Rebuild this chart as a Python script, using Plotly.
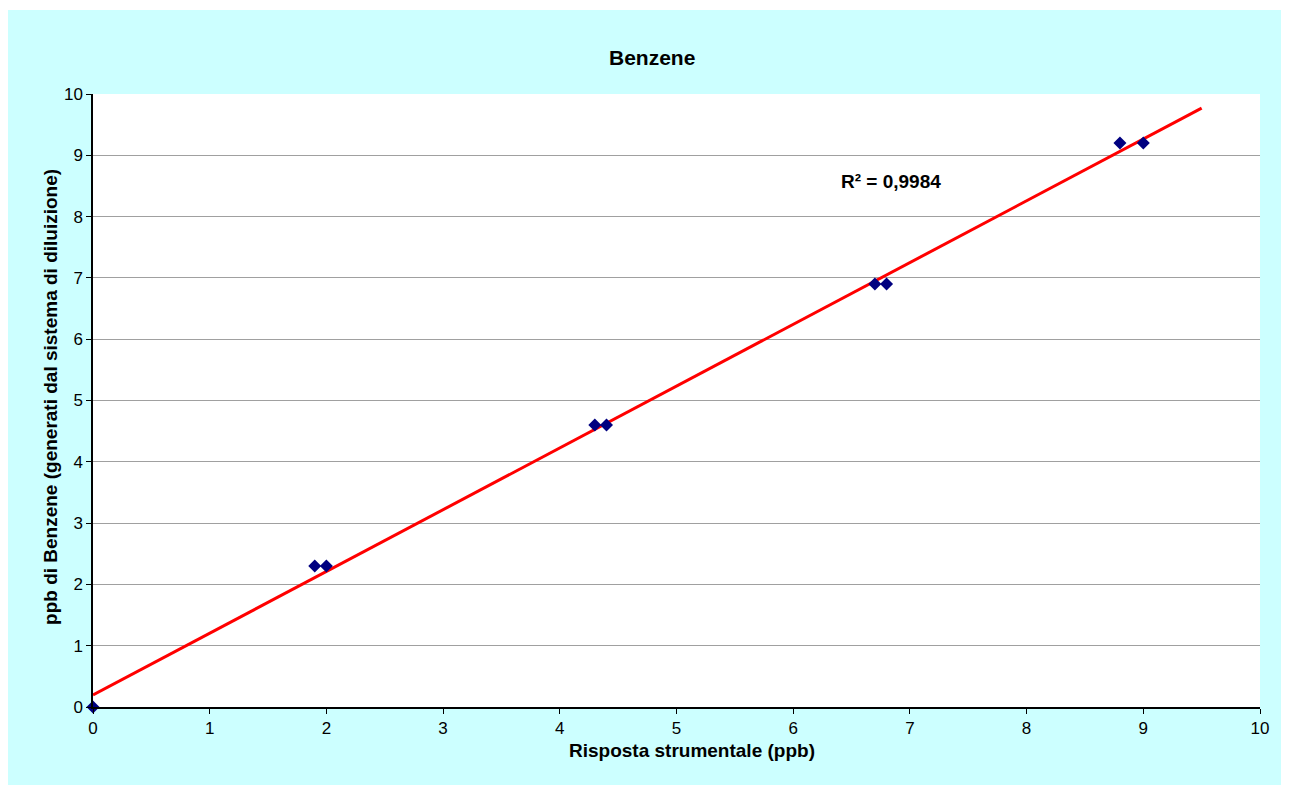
import numpy as np
import plotly.graph_objects as go

# measured points: instrument response vs generated ppb
risposta = [0, 1.9, 2.0, 4.3, 4.4, 6.7, 6.8, 8.8, 9.0]
ppb_generati = [0, 2.3, 2.3, 4.6, 4.6, 6.9, 6.9, 9.2, 9.2]
r2_label = "R² = 0,9984"
x_ticks = list(range(0, 11))
y_ticks = list(range(0, 11))

# linear trendline over the data
slope, intercept = np.polyfit(risposta, ppb_generati, 1)
trend_x = [0, 9.5]
trend_y = [intercept + slope * v for v in trend_x]

font = "Liberation Sans, Arial, sans-serif"

fig = go.Figure()
fig.add_trace(go.Scatter(
    x=trend_x, y=trend_y, mode="lines",
    line=dict(color="#FF0000", width=3), hoverinfo="none",
))
fig.add_trace(go.Scatter(
    x=risposta, y=ppb_generati, mode="markers",
    marker=dict(symbol="diamond", size=10, color="#000080"),
    cliponaxis=False,
))

# cyan chart area behind everything, white plot area on top
fig.add_shape(type="rect", xref="paper", yref="paper",
              x0=-0.0737, x1=1.05, y0=-0.16, y1=1.137,
              fillcolor="#CCFFFF", line_width=0, layer="below")
fig.add_shape(type="rect", xref="paper", yref="paper",
              x0=0, x1=1, y0=0, y1=1,
              fillcolor="white", line_width=0, layer="below")

fig.add_annotation(text="<b>Benzene</b>", xref="paper", yref="paper",
                   x=0.479, y=1.0816, showarrow=False,
                   font=dict(size=21, color="black", family=font))
fig.add_annotation(text="<b>Risposta strumentale (ppb)</b>", xref="paper", yref="paper",
                   x=0.513, y=-0.0914, showarrow=False,
                   font=dict(size=19, color="black", family=font))
fig.add_annotation(text="<b>ppb di Benzene (generati dal sistema di diluizione)</b>",
                   xref="paper", yref="paper", x=-0.0471, y=0.505, textangle=-90,
                   showarrow=False, font=dict(size=19, color="black", family=font))
fig.add_annotation(text="<b>" + r2_label + "</b>", x=6.835, y=8.58, showarrow=False,
                   font=dict(size=19, color="black", family=font))

fig.update_layout(
    width=1289, height=785,
    margin=dict(l=85, r=37, t=86, b=86),
    paper_bgcolor="white", plot_bgcolor="rgba(0,0,0,0)",
    showlegend=False,
    font=dict(family=font, size=17, color="black"),
    xaxis=dict(range=[0, 10], tickvals=x_ticks, showgrid=False, zeroline=False,
               showline=True, linecolor="black", linewidth=1.5,
               ticks="outside", ticklen=5, tickcolor="black"),
    yaxis=dict(range=[0, 10], tickvals=y_ticks, showgrid=True, gridcolor="#A0A0A0",
               gridwidth=1, zeroline=False, showline=True, linecolor="black",
               linewidth=1.5, ticks="outside", ticklen=5, tickcolor="black"),
)

fig.write_html("out.html")
